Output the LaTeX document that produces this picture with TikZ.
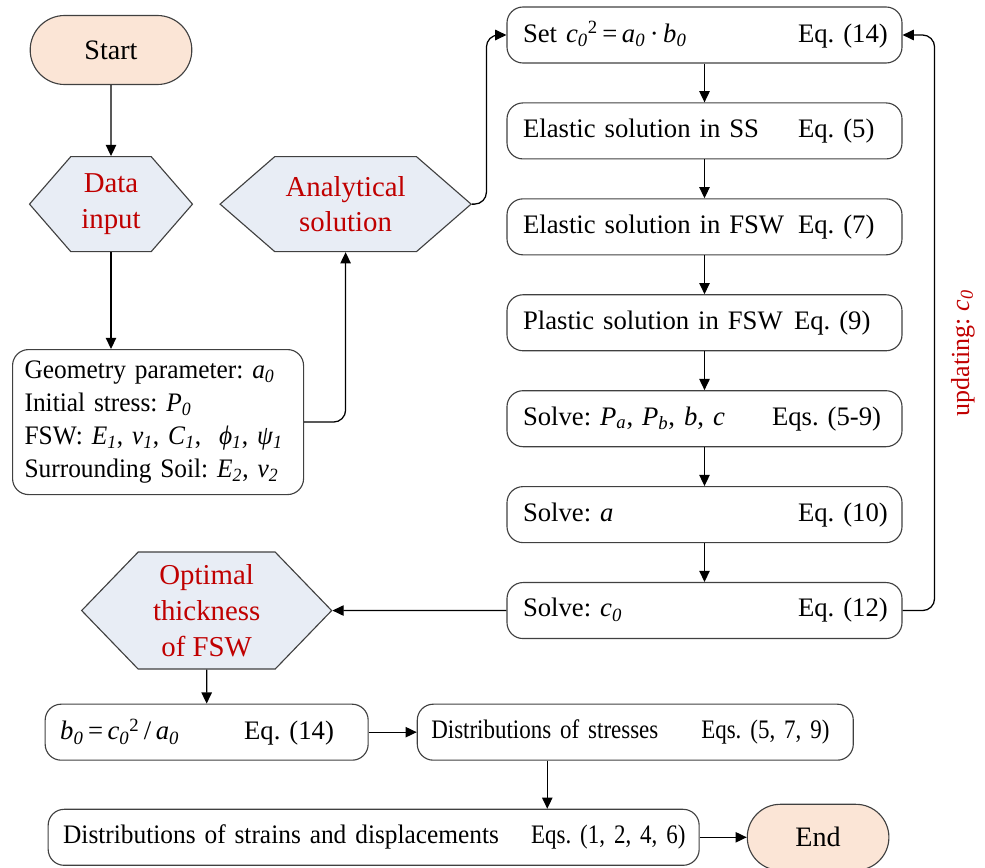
\documentclass[tikz,border=0pt]{standalone}
\usepackage{fontspec}
\setmainfont{Liberation Serif}
\newfontfamily\slimfont[FakeStretch=0.95]{Liberation Serif}
\newfontfamily\narrowfont[FakeStretch=0.86]{Liberation Serif}
\usepackage{xcolor}
\usetikzlibrary{positioning,shapes.misc,shapes.symbols,arrows.meta}
\definecolor{peach}{RGB}{251,229,214}
\definecolor{hexblue}{RGB}{232,237,245}
\definecolor{darkred}{RGB}{192,0,0}
\frenchspacing
\newcommand{\vsub}[2]{\textit{#1}\textsubscript{\textit{#2}}}
\newcommand{\eqrow}[3]{\mbox{\makebox[#1][l]{#2}#3}}

\begin{document}
\begin{tikzpicture}[
    terminal/.style={rounded rectangle, draw=black!75, line width=0.8pt, fill=peach, font=\fontsize{20}{24}\selectfont},
    hexnode/.style={signal, signal to=east and west, draw=black!75, line width=0.8pt, fill=hexblue, text=darkred, align=center, font=\fontsize{20.5}{25.5}\selectfont, minimum height=2.375cm, inner sep=0pt},
    calcbox/.style={rectangle, rounded corners=0.4cm, draw=black!75, line width=0.8pt, minimum height=1.4cm, inner xsep=0.375cm, align=left, font=\fontsize{19}{23}\selectfont},
    colbox/.style={calcbox, text width=9.075cm, inner xsep=0.4cm},
    flow/.style={-{Triangle[length=0.28cm,width=0.26cm]}, line width=0.9pt},
    node distance=0.97cm
]
    \useasboundingbox (0,0) rectangle (24.625,-21.675);

    \node[terminal, minimum width=4.275cm, minimum height=1.725cm] (start) at (2.775,-1.25) {Start};
    \node[hexnode, minimum width=4.075cm, signal pointer angle=98, below=1.775cm of start] (data) {Data\\input};
    \node[hexnode, minimum width=6.275cm, signal pointer angle=82, right=0.65cm of data] (ana) {Analytical\\solution};
    \node[calcbox, text width=6.675cm, inner xsep=0.3cm, minimum height=3.625cm, anchor=north west, font=\fontsize{19}{23.5}\slimfont] (geo) at (0.3,-8.725)
        {\mbox{Geometry parameter: \vsub{a}{0}}\\\mbox{Initial stress: \vsub{P}{0}}\\\mbox{FSW: \vsub{E}{1}, \vsub{v}{1}, \vsub{C}{1},\ \ \vsub{ϕ}{1}, \vsub{ψ}{1}}\\\mbox{Surrounding Soil: \vsub{E}{2}, \vsub{v}{2}}};

    \node[colbox] (set) at (17.6125,-0.875) {\eqrow{6.875cm}{Set \vsub{c}{0}\textsuperscript{2}\,=\,\vsub{a}{0}\,·\,\vsub{b}{0}}{Eq. (14)}};
    \node[colbox, below=of set] (ss) {\eqrow{6.875cm}{Elastic solution in SS}{Eq. (5)}};
    \node[colbox, below=of ss] (efsw) {\eqrow{6.875cm}{Elastic solution in FSW}{Eq. (7)}};
    \node[colbox, below=of efsw] (pfsw) {\eqrow{6.775cm}{Plastic solution in FSW}{Eq. (9)}};
    \node[colbox, below=of pfsw] (solp) {\eqrow{6.225cm}{Solve: \vsub{P}{a}, \vsub{P}{b}, \textit{b}, \textit{c}}{Eqs. (5-9)}};
    \node[colbox, below=of solp] (sola) {\eqrow{6.875cm}{Solve: \textit{a}}{Eq. (10)}};
    \node[colbox, below=of sola] (solc) {\eqrow{6.875cm}{Solve: \vsub{c}{0}}{Eq. (12)}};
    \node[text=darkred, rotate=90, font=\fontsize{18.5}{22}\selectfont] (upd) at (24.075,-8.825) {updating: \vsub{c}{0}};

    \node[hexnode, minimum width=6.25cm, minimum height=2.925cm, signal pointer angle=92, left=4.35cm of solc] (opt) {Optimal\\thickness\\of FSW};
    \node[calcbox, text width=7.325cm, below=0.85cm of opt] (bzero) {\eqrow{4.6cm}{\vsub{b}{0}\,=\,\vsub{c}{0}\textsuperscript{2}\,/\,\vsub{a}{0}}{Eq. (14)}};
    \node[calcbox, text width=10.2cm, inner xsep=0.35cm, right=1.2cm of bzero, font=\fontsize{19}{23}\narrowfont] (stress) {\eqrow{6.75cm}{Distributions of stresses}{Eqs. (5, 7, 9)}};
    \node[calcbox, text width=15.525cm, anchor=north west, font=\fontsize{19}{23}\slimfont] (strain) at ([xshift=0.075cm,yshift=-1.2cm]bzero.south west)
        {\eqrow{11.7cm}{Distributions of strains and displacements}{\narrowfont Eqs. (1, 2, 4, 6)}};
    \node[terminal, minimum width=3.775cm, minimum height=1.65cm, right=1.175cm of strain] (end) {End};

    \draw[flow] (start) -- (data);
    \draw[flow] (data.south) -- (data.south |- geo.north);
    \draw[flow, rounded corners=0.3cm] (geo.east) -| (ana.south);
    \draw[flow, rounded corners=0.3cm] (ana.east) -| ([xshift=-0.5cm]set.west) -- (set.west);
    \foreach \a/\b in {set/ss, ss/efsw, efsw/pfsw, pfsw/solp, solp/sola, sola/solc}
        \draw[flow] (\a) -- (\b);
    \draw[flow, rounded corners=0.3cm] (solc.east) -- ++(0.8cm,0) |- (set.east);
    \draw[flow] (solc) -- (opt);
    \draw[flow] (opt) -- (bzero);
    \draw[flow] (bzero) -- (stress);
    \draw[flow] ([xshift=-2.2cm]stress.south) -- ([xshift=-2.2cm]stress.south |- strain.north);
    \draw[flow] (strain) -- (end);
\end{tikzpicture}
\end{document}
